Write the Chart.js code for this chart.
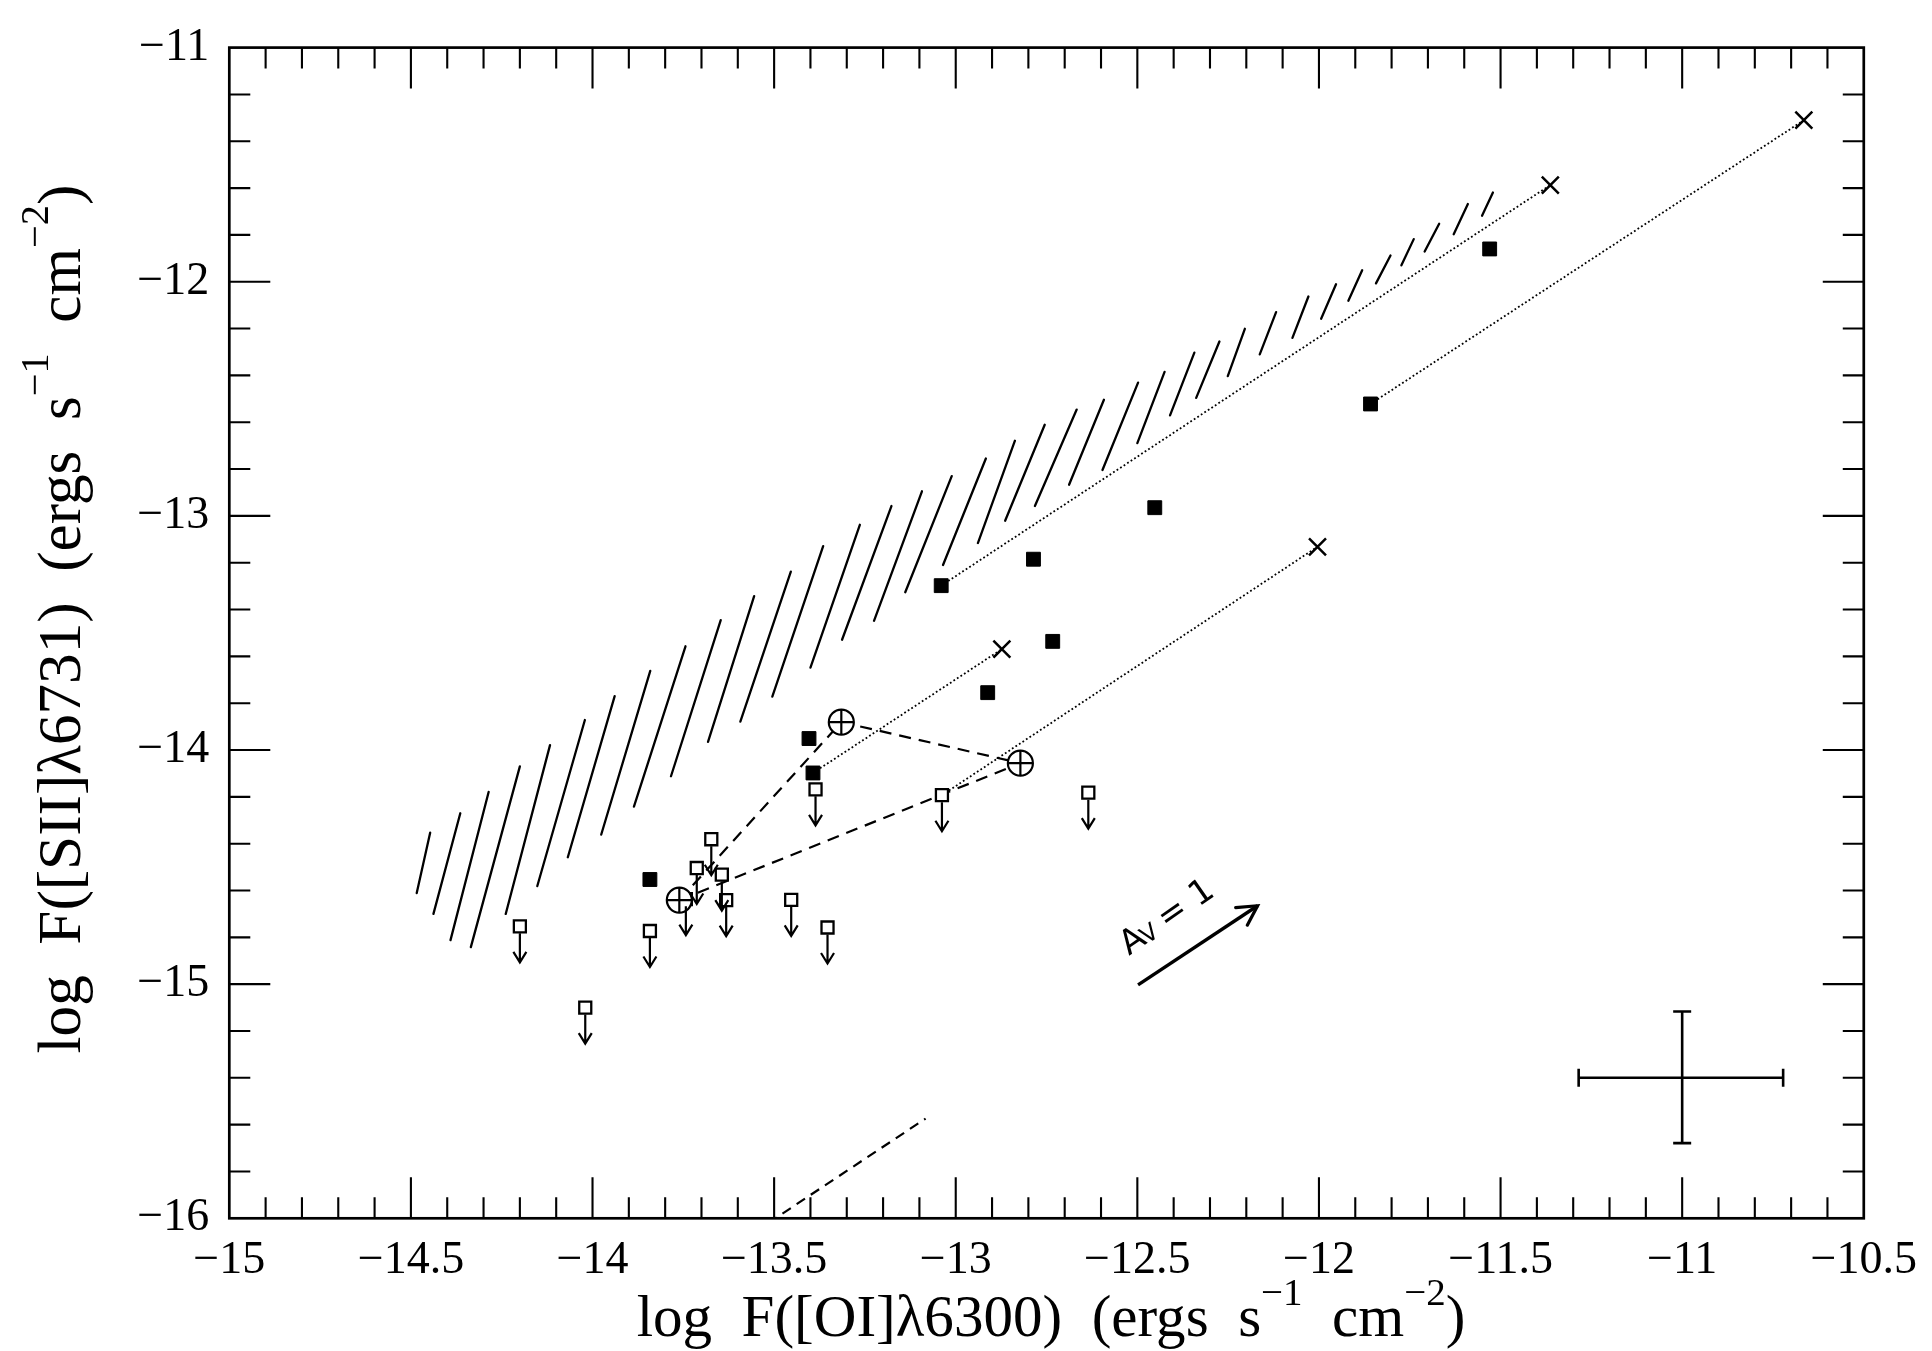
<!DOCTYPE html>
<html><head><meta charset="utf-8">
<script src="https://cdn.jsdelivr.net/npm/chart.js@4/dist/chart.umd.min.js"></script>
<style>html,body{margin:0;padding:0;background:#fff;}#wrap{width:1932px;height:1351px;}</style>
</head><body><div id="wrap"><canvas id="c" width="1932" height="1351"></canvas></div>
<script>
// ---------------- data ----------------
const xMajorTicks = [-15, -14.5, -14, -13.5, -13, -12.5, -12, -11.5, -11, -10.5];
const xTickLabels = ['−15', '−14.5', '−14', '−13.5', '−13', '−12.5', '−12', '−11.5', '−11', '−10.5'];
const yMajorTicks = [-16, -15, -14, -13, -12, -11];
const yTickLabels = ['−16', '−15', '−14', '−13', '−12', '−11'];
const xMinorStep = 0.1;
const yMinorStep = 0.2;

// detections (filled squares)
const detX = [-13.842, -13.404, -13.393, -13.040, -12.786, -12.912, -12.733, -12.452, -11.858, -11.530];
const detY = [-14.553, -13.951, -14.098, -13.298, -13.185, -13.755, -13.536, -12.965, -12.522, -11.860];

// upper limits (open squares with arrows)
const limX = [-14.200, -14.020, -13.842, -13.673, -13.713, -13.644, -13.632, -13.743, -13.453, -13.353, -13.386, -13.038, -12.635];
const limY = [-14.753, -15.100, -14.773, -14.381, -14.504, -14.532, -14.641, -14.637, -14.640, -14.758, -14.168, -14.193, -14.182];

// crosses (end points of dotted lines)
const crossX = [-10.665, -11.363, -12.004, -12.873];
const crossY = [-11.310, -11.587, -13.132, -13.569];

// dotted line start points (each joins the cross with the same index)
const dotStartX = [-11.858, -13.040, -13.038, -13.393];
const dotStartY = [-12.522, -13.298, -14.193, -14.098];

// circled-plus points, joined by a dashed triangle
const circX = [-13.315, -12.822, -13.761];
const circY = [-13.881, -14.056, -14.641];
const triangleOrder = [2, 0, 1, 2];

// dashed segment at bottom
const bottomDashX = [-13.516, -13.083];
const bottomDashY = [-16.02, -15.574];

// hatched band: individual strokes (bottom end -> top end)
const hatchBottomX = [-14.484,-14.438,-14.391,-14.335,-14.239,-14.152,-14.068,-13.976,-13.886,-13.784,-13.682,-13.593,-13.505,-13.400,-13.313,-13.225,-13.139,-13.035,-12.939,-12.864,-12.782,-12.688,-12.596,-12.500,-12.410,-12.338,-12.251,-12.163,-12.073,-11.994,-11.919,-11.843,-11.773,-11.709,-11.629,-11.551];
const hatchBottomY = [-14.611,-14.700,-14.812,-14.842,-14.700,-14.581,-14.458,-14.361,-14.242,-14.112,-13.965,-13.879,-13.772,-13.648,-13.529,-13.448,-13.326,-13.210,-13.116,-13.021,-12.958,-12.867,-12.804,-12.689,-12.571,-12.496,-12.403,-12.310,-12.240,-12.158,-12.081,-12.007,-11.930,-11.871,-11.797,-11.718];
const hatchTopX = [-14.447,-14.364,-14.286,-14.200,-14.117,-14.021,-13.939,-13.841,-13.744,-13.647,-13.555,-13.454,-13.365,-13.264,-13.177,-13.093,-13.011,-12.917,-12.837,-12.755,-12.667,-12.592,-12.498,-12.425,-12.343,-12.274,-12.204,-12.118,-12.029,-11.953,-11.881,-11.803,-11.739,-11.669,-11.590,-11.521];
const hatchTopY = [-14.353,-14.270,-14.179,-14.070,-13.979,-13.872,-13.770,-13.662,-13.557,-13.445,-13.343,-13.238,-13.129,-13.038,-12.958,-12.895,-12.830,-12.755,-12.679,-12.611,-12.546,-12.504,-12.431,-12.385,-12.303,-12.255,-12.201,-12.130,-12.063,-12.011,-11.951,-11.888,-11.818,-11.752,-11.668,-11.619];

// typical error bar
const errCenter = [-11.0, -15.40];
const errXRange = [-11.285, -10.722];
const errYRange = [-15.679, -15.117];

// extinction vector A_V = 1
const avStart = [-12.498, -15.003];
const avEnd = [-12.169, -14.665];
const avLabelPos = [-12.523, -14.880];

// axis titles
const xTitleParts = [{t:'log  F([OI]λ6300)  (ergs  s'},{t:'−1',sup:true},{t:'  cm'},{t:'−2',sup:true},{t:')'}];
const yTitleParts = [{t:'log  F([SII]λ6731)  (ergs  s'},{t:'−1',sup:true},{t:'  cm'},{t:'−2',sup:true},{t:')'}];

// ---------------- build datasets ----------------
const pts = (xs, ys) => xs.map((x, i) => ({x, y: ys[i]}));
const hatchData = [];
hatchBottomX.forEach((bx, i) => {
  hatchData.push({x: bx, y: hatchBottomY[i]});
  hatchData.push({x: hatchTopX[i], y: hatchTopY[i]});
  hatchData.push({x: hatchTopX[i], y: null});
});
const dottedData = [];
dotStartX.forEach((sx, i) => {
  dottedData.push({x: sx, y: dotStartY[i]});
  dottedData.push({x: crossX[i], y: crossY[i]});
  dottedData.push({x: crossX[i], y: null});
});
const triData = triangleOrder.map(i => ({x: circX[i], y: circY[i]}));
const errData = [
  {x: errXRange[0], y: errCenter[1]}, {x: errXRange[1], y: errCenter[1]}, {x: errXRange[1], y: null},
  {x: errCenter[0], y: errYRange[0]}, {x: errCenter[0], y: errYRange[1]}
];

const lineDS = (data, extra) => Object.assign({type: 'scatter', data, showLine: true, pointRadius: 0, borderColor: '#000', backgroundColor: '#000', spanGaps: false, fill: false, tension: 0}, extra);

const datasets = [
  {label: 'circle-cross', data: pts(circX, circY), pointStyle: 'cross', pointRadius: 12.5, borderColor: '#000', borderWidth: 2.2, order: 0},
  {label: 'circles', data: pts(circX, circY), pointStyle: 'circle', pointRadius: 12.5, borderColor: '#000', backgroundColor: '#fff', borderWidth: 2.2, order: 1},
  {label: 'limits', data: pts(limX, limY), pointStyle: 'rect', pointRadius: 8.5, borderColor: '#000', backgroundColor: '#fff', borderWidth: 2.3, order: 2},
  {label: 'detections', data: pts(detX, detY), pointStyle: 'rect', pointRadius: 9.8, borderColor: '#000', backgroundColor: '#000', borderWidth: 1, order: 2},
  {label: 'crosses', data: pts(crossX, crossY), pointStyle: 'crossRot', pointRadius: 12, borderColor: '#000', borderWidth: 2.5, order: 2},
  lineDS(dottedData, {label: 'dotted', borderWidth: 1.8, borderDash: [1.8, 2.4], order: 5}),
  lineDS(triData, {label: 'triangle', borderWidth: 2.2, borderDash: [12, 8], order: 5}),
  lineDS(pts(bottomDashX, bottomDashY), {label: 'bottomdash', borderWidth: 2.2, borderDash: [10, 7], order: 5}),
  lineDS(pts([avStart[0], avEnd[0]], [avStart[1], avEnd[1]]), {label: 'av', borderWidth: 3.4, order: 5}),
  lineDS(errData, {label: 'errbar', borderWidth: 2.6, order: 5}),
  lineDS(hatchData, {label: 'hatch', borderWidth: 2.3, order: 10, borderCapStyle: 'round'})
];

// ---------------- plugins ----------------
const SERIF = '"Liberation Serif", "DejaVu Serif", serif';
function richWidth(ctx, parts, size) {
  let w = 0;
  parts.forEach(p => { ctx.font = (p.sup ? size * 0.66 : size) + 'px ' + SERIF; w += ctx.measureText(p.t).width; });
  return w;
}
function drawRich(ctx, parts, size, x0, y0) {
  let x = x0;
  parts.forEach(p => {
    ctx.font = (p.sup ? size * 0.66 : size) + 'px ' + SERIF;
    ctx.fillText(p.t, x, p.sup ? y0 - size * 0.52 : y0);
    x += ctx.measureText(p.t).width;
  });
}

const decorPlugin = {
  id: 'decor',
  afterDatasetsDraw(chart) {
    const {ctx, chartArea: a, scales: {x, y}} = chart;
    ctx.save();
    ctx.strokeStyle = '#000'; ctx.fillStyle = '#000';
    ctx.lineCap = 'butt';

    // arrows under upper limits
    ctx.lineWidth = 2.2;
    const lm = chart.getDatasetMeta(2);
    ctx.beginPath();
    lm.data.forEach(pt => {
      const px = pt.x, py = pt.y;
      ctx.moveTo(px, py + 7); ctx.lineTo(px, py + 36);
      ctx.moveTo(px - 6.5, py + 25.5); ctx.lineTo(px, py + 36); ctx.lineTo(px + 6.5, py + 25.5);
    });
    ctx.stroke();

    // error bar caps
    ctx.lineWidth = 2.6;
    ctx.beginPath();
    const cy = y.getPixelForValue(errCenter[1]), cx = x.getPixelForValue(errCenter[0]);
    errXRange.forEach(v => { const px = x.getPixelForValue(v); ctx.moveTo(px, cy - 9); ctx.lineTo(px, cy + 9); });
    errYRange.forEach(v => { const py = y.getPixelForValue(v); ctx.moveTo(cx - 9, py); ctx.lineTo(cx + 9, py); });
    ctx.stroke();

    // A_V arrow head + label
    const sx = x.getPixelForValue(avStart[0]), sy = y.getPixelForValue(avStart[1]);
    const ex = x.getPixelForValue(avEnd[0]), ey = y.getPixelForValue(avEnd[1]);
    const ang = Math.atan2(ey - sy, ex - sx);
    ctx.lineWidth = 3.2; ctx.lineCap = 'round';
    ctx.beginPath();
    ctx.moveTo(ex - 22 * Math.cos(ang - 0.5), ey - 22 * Math.sin(ang - 0.5));
    ctx.lineTo(ex, ey);
    ctx.lineTo(ex - 22 * Math.cos(ang + 0.5), ey - 22 * Math.sin(ang + 0.5));
    ctx.stroke();
    ctx.lineCap = 'butt';
    const lx = x.getPixelForValue(avLabelPos[0]), ly = y.getPixelForValue(avLabelPos[1]);
    ctx.save();
    ctx.translate(lx, ly); ctx.rotate(-35 * Math.PI / 180);
    ctx.textBaseline = 'alphabetic'; ctx.textAlign = 'left';
    ctx.font = '34px "DejaVu Sans", sans-serif';
    ctx.fillText('A', 0, 0);
    let w = ctx.measureText('A').width;
    ctx.font = '24px "DejaVu Sans", sans-serif';
    ctx.fillText('V', w - 2, 1);
    w += ctx.measureText('V').width + 6;
    ctx.font = '34px "DejaVu Sans", sans-serif';
    ctx.fillText('= 1', w, 0);
    ctx.restore();

    // frame
    ctx.lineWidth = 2.7;
    ctx.strokeRect(a.left, a.top, a.right - a.left, a.bottom - a.top);

    // inward ticks on all four sides
    ctx.lineWidth = 2.1;
    ctx.beginPath();
    const nx = Math.round((x.max - x.min) / xMinorStep);
    for (let i = 1; i < nx; i++) {
      const v = x.min + i * xMinorStep;
      const major = xMajorTicks.some(m => Math.abs(m - v) < 1e-6);
      const L = major ? 41 : 21;
      const px = x.getPixelForValue(v);
      ctx.moveTo(px, a.bottom); ctx.lineTo(px, a.bottom - L);
      ctx.moveTo(px, a.top); ctx.lineTo(px, a.top + L);
    }
    const ny = Math.round((y.max - y.min) / yMinorStep);
    for (let i = 1; i < ny; i++) {
      const v = y.min + i * yMinorStep;
      const major = yMajorTicks.some(m => Math.abs(m - v) < 1e-6);
      const L = major ? 41 : 21;
      const py = y.getPixelForValue(v);
      ctx.moveTo(a.left, py); ctx.lineTo(a.left + L, py);
      ctx.moveTo(a.right, py); ctx.lineTo(a.right - L, py);
    }
    ctx.stroke();

    // axis titles
    ctx.textBaseline = 'alphabetic'; ctx.textAlign = 'left';
    let size = 44 * 829 / richWidth(ctx, xTitleParts, 44);
    let tw = richWidth(ctx, xTitleParts, size);
    drawRich(ctx, xTitleParts, size, 1051 - tw / 2, 1336);
    size = 44 * 869 / richWidth(ctx, yTitleParts, 44);
    tw = richWidth(ctx, yTitleParts, size);
    ctx.save();
    ctx.translate(80, 619); ctx.rotate(-Math.PI / 2);
    drawRich(ctx, yTitleParts, size, -tw / 2, 0);
    ctx.restore();

    ctx.restore();
  }
};

const fmt = (ticks, labels) => (v) => { const i = ticks.findIndex(t => Math.abs(t - v) < 1e-6); return i >= 0 ? labels[i] : ''; };

new Chart(document.getElementById('c'), {
  type: 'scatter',
  data: {datasets},
  options: {
    responsive: false, animation: false, devicePixelRatio: 1,
    layout: {padding: {left: 0, right: 63.5, top: 26.7, bottom: 0}},
    plugins: {legend: {display: false}, tooltip: {enabled: false}},
    elements: {line: {borderJoinStyle: 'miter'}},
    scales: {
      x: {
        type: 'linear', min: -15, max: -10.5,
        afterFit(s) { s.height = 132.7; },
        afterBuildTicks(s) { s.ticks = xMajorTicks.map(v => ({value: v})); },
        ticks: {callback: fmt(xMajorTicks, xTickLabels), font: {family: SERIF, size: 46}, color: '#000', padding: 15, maxRotation: 0, autoSkip: false},
        grid: {display: false, drawTicks: false}, border: {display: false}
      },
      y: {
        type: 'linear', min: -16, max: -11,
        afterFit(s) { s.width = 229.3; },
        afterBuildTicks(s) { s.ticks = yMajorTicks.map(v => ({value: v})); },
        ticks: {callback: fmt(yMajorTicks, yTickLabels), font: {family: SERIF, size: 46}, color: '#000', padding: 20, autoSkip: false},
        grid: {display: false, drawTicks: false}, border: {display: false}
      }
    }
  },
  plugins: [decorPlugin]
});
</script>
</body></html>
